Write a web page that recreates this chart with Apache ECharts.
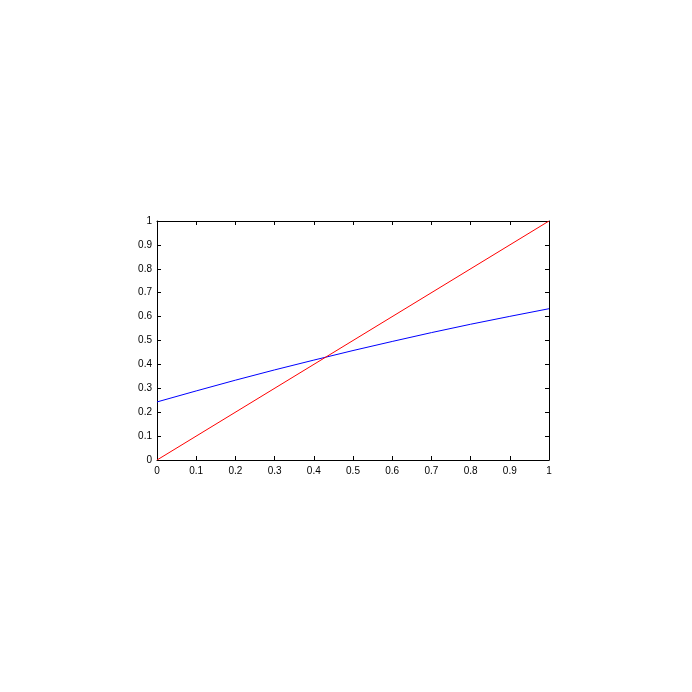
<!DOCTYPE html>
<html>
<head>
<meta charset="utf-8">
<script src="https://cdn.jsdelivr.net/npm/echarts@6/dist/echarts.min.js"></script>
<style>
    html, body { margin:0; padding:0; background:#fff; }
    #chart { width:692px; height:692px; }
</style>
</head>
<body>
<div id="chart"></div>
<script>
    // values
    var xValues = [0, 0.1, 0.2, 0.3, 0.4, 0.5, 0.6, 0.7, 0.8, 0.9, 1]
    var blueValues = [0.243, 0.289, 0.334, 0.377, 0.418, 0.458, 0.496, 0.533, 0.568, 0.601, 0.633]
    var redX = [0, 1]
    var redValues = [0, 1]

    var myChart = echarts.init(document.getElementById('chart'))

    function pairs(xs, ys){
        return xs.map(function(x, i){ return [x, ys[i]] })
    }

    var labelStyle = {
        color:'#000',
        fontSize:10,
        fontFamily:'Liberation Sans, Arial, sans-serif'
    }

    function makeAxis(position, showLabel){
        return {
            type:'value',
            position:position,
            min:0,
            max:1,
            interval:0.1,
            axisLine:{ show:true, onZero:false, lineStyle:{ color:'#000', width:1 } },
            axisTick:{ show:true, inside:true, length:4, lineStyle:{ color:'#000' } },
            axisLabel:Object.assign({ show:showLabel, margin:position=='bottom' ? 6 : 5 }, labelStyle),
            splitLine:{ show:false }
        }
    }

    var option = {
        animation:false,
        backgroundColor:'#fff',
        grid:{
            left:157,
            top:221,
            width:392,
            height:239
        },
        xAxis:[makeAxis('bottom', true), makeAxis('top', false)],
        yAxis:[makeAxis('left', true), makeAxis('right', false)],
        series:[
            {
                type:'line',
                data:pairs(xValues, blueValues),
                showSymbol:false,
                lineStyle:{ color:'#0000ff', width:1 },
                itemStyle:{ color:'#0000ff' }
            },
            {
                type:'line',
                data:pairs(redX, redValues),
                showSymbol:false,
                lineStyle:{ color:'#ff0000', width:1 },
                itemStyle:{ color:'#ff0000' }
            }
        ]
    }
    myChart.setOption(option)
</script>
</body>
</html>
